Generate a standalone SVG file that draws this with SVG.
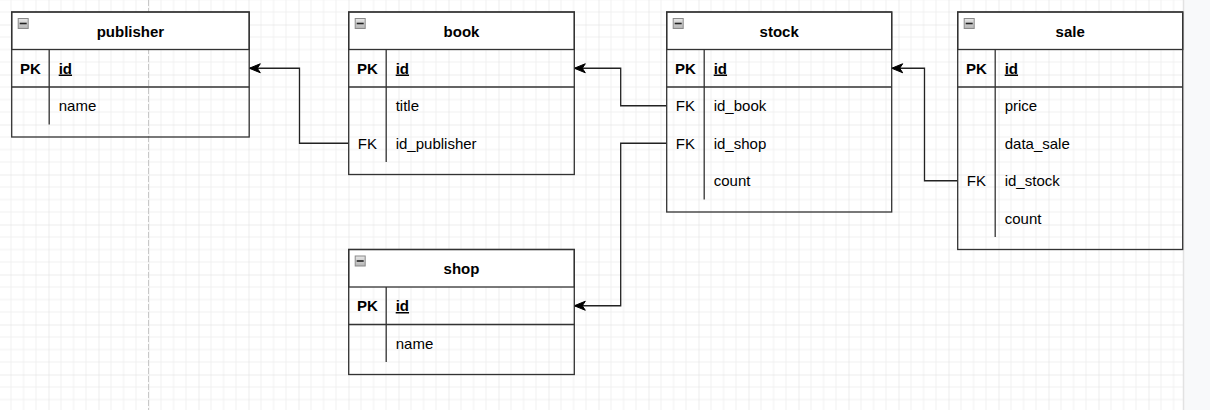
<svg xmlns="http://www.w3.org/2000/svg" width="1210" height="410" viewBox="0 0 1210 410">
  <style>
    .frame { fill: none; stroke: #333; stroke-width: 1.3; }
    .hdr { fill: #fff; stroke: #333; stroke-width: 1.3; }
    .ln { stroke: #333; stroke-width: 1.3; fill: none; }
    .pkln { stroke: #333; stroke-width: 1.6; fill: none; }
    .title { font-family: "Liberation Sans", Arial, sans-serif; font-size: 15px; font-weight: bold; fill: #000; text-anchor: middle; }
    .key { font-family: "Liberation Sans", Arial, sans-serif; font-size: 15px; fill: #000; text-anchor: middle; }
    .keyb { font-family: "Liberation Sans", Arial, sans-serif; font-size: 15px; font-weight: bold; fill: #000; text-anchor: middle; }
    .fld { font-family: "Liberation Sans", Arial, sans-serif; font-size: 15px; fill: #000; }
    .fldpk { font-family: "Liberation Sans", Arial, sans-serif; font-size: 15px; font-weight: bold; fill: #000; text-decoration: underline; }
    .conn { fill: none; stroke: #222; stroke-width: 1.3; }
    .icon { fill: url(#iconGrad); stroke: #8a8a8a; stroke-width: 1; }
    .iconbar { stroke: #222; stroke-width: 1.6; }
  </style>
  <defs>
    <pattern id="grid" x="48.5" y="24.5" width="50" height="50" patternUnits="userSpaceOnUse">
      <path d="M12.5 0 V50 M25 0 V50 M37.5 0 V50 M0 12.5 H50 M0 25 H50 M0 37.5 H50" stroke="#f0f0f0" stroke-width="1" fill="none"/>
      <path d="M0 0 V50 M0 0 H50" stroke="#dcdcdc" stroke-width="1" fill="none"/>
    </pattern>
    <linearGradient id="iconGrad" x1="0" y1="0" x2="0" y2="1">
      <stop offset="0" stop-color="#e8e8e8"/>
      <stop offset="1" stop-color="#b4b4b4"/>
    </linearGradient>
    <marker id="arrow" viewBox="-12 -6 13 12" refX="0" refY="0" markerWidth="13" markerHeight="12" markerUnits="userSpaceOnUse" orient="auto" overflow="visible">
      <path d="M0 0 L-11 -4.5 L-8 0 L-11 4.5 Z" fill="#000" stroke="#000" stroke-width="1"/>
    </marker>
  </defs>

  <!-- background -->
  <rect x="0" y="0" width="1210" height="410" fill="#fff"/>
  <rect x="0" y="0" width="1183" height="410" fill="url(#grid)"/>
  <line x1="148.5" y1="0" x2="148.5" y2="410" stroke="#c8c8c8" stroke-width="1" stroke-dasharray="6 2"/>
  <rect x="1183" y="0" width="27" height="410" fill="#f8f9fa"/>
  <line x1="1183.5" y1="0" x2="1183.5" y2="410" stroke="#e2e2e2" stroke-width="1.5"/>

  <!-- connectors -->
  <g id="connectors">
    <path class="conn" d="M348.7 143.25 H299.5 V68.25 H249.3" marker-end="url(#arrow)"/>
    <path class="conn" d="M666.7 105.75 H620.7 V68.25 H574.3" marker-end="url(#arrow)"/>
    <path class="conn" d="M666.7 143.25 H620.7 V305.75 H574.3" marker-end="url(#arrow)"/>
    <path class="conn" d="M957.7 180.75 H924.5 V68.25 H891.7" marker-end="url(#arrow)"/>
  </g>

  <!-- publisher -->
  <g id="publisher" transform="translate(11.7,12)">
    <rect class="hdr" x="0" y="0" width="237.5" height="37.5"/>
    <rect class="frame" x="0" y="0" width="237.5" height="125"/>
    <rect class="icon" x="6.5" y="6.5" width="10" height="10"/>
    <line class="iconbar" x1="8" y1="11.5" x2="15" y2="11.5"/>
    <text class="title" x="118.75" y="24.5">publisher</text>
    <line class="pkln" x1="0" y1="75" x2="237.5" y2="75"/>
    <line class="ln" x1="37.5" y1="37.5" x2="37.5" y2="112.5"/>
    <text class="keyb" x="18.75" y="61.5">PK</text>
    <text class="fldpk" x="47" y="61.5">id</text>
    <text class="fld" x="47" y="99">name</text>
  </g>

  <!-- book -->
  <g id="book" transform="translate(348.7,12)">
    <rect class="hdr" x="0" y="0" width="225.6" height="37.5"/>
    <rect class="frame" x="0" y="0" width="225.6" height="162.5"/>
    <rect class="icon" x="6.5" y="6.5" width="10" height="10"/>
    <line class="iconbar" x1="8" y1="11.5" x2="15" y2="11.5"/>
    <text class="title" x="112.8" y="24.5">book</text>
    <line class="pkln" x1="0" y1="75" x2="225.6" y2="75"/>
    <line class="ln" x1="37.5" y1="37.5" x2="37.5" y2="150"/>
    <text class="keyb" x="18.75" y="61.5">PK</text>
    <text class="fldpk" x="47" y="61.5">id</text>
    <text class="fld" x="47" y="99">title</text>
    <text class="key" x="18.75" y="136.5">FK</text>
    <text class="fld" x="47" y="136.5">id_publisher</text>
  </g>

  <!-- stock -->
  <g id="stock" transform="translate(666.7,12)">
    <rect class="hdr" x="0" y="0" width="225" height="37.5"/>
    <rect class="frame" x="0" y="0" width="225" height="200"/>
    <rect class="icon" x="6.5" y="6.5" width="10" height="10"/>
    <line class="iconbar" x1="8" y1="11.5" x2="15" y2="11.5"/>
    <text class="title" x="112.5" y="24.5">stock</text>
    <line class="pkln" x1="0" y1="75" x2="225" y2="75"/>
    <line class="ln" x1="37.5" y1="37.5" x2="37.5" y2="187.5"/>
    <text class="keyb" x="18.75" y="61.5">PK</text>
    <text class="fldpk" x="47" y="61.5">id</text>
    <text class="key" x="18.75" y="99">FK</text>
    <text class="fld" x="47" y="99">id_book</text>
    <text class="key" x="18.75" y="136.5">FK</text>
    <text class="fld" x="47" y="136.5">id_shop</text>
    <text class="fld" x="47" y="174">count</text>
  </g>

  <!-- sale -->
  <g id="sale" transform="translate(957.7,12)">
    <rect class="hdr" x="0" y="0" width="225" height="37.5"/>
    <rect class="frame" x="0" y="0" width="225" height="237.5"/>
    <rect class="icon" x="6.5" y="6.5" width="10" height="10"/>
    <line class="iconbar" x1="8" y1="11.5" x2="15" y2="11.5"/>
    <text class="title" x="112.5" y="24.5">sale</text>
    <line class="pkln" x1="0" y1="75" x2="225" y2="75"/>
    <line class="ln" x1="37.5" y1="37.5" x2="37.5" y2="225"/>
    <text class="keyb" x="18.75" y="61.5">PK</text>
    <text class="fldpk" x="47" y="61.5">id</text>
    <text class="fld" x="47" y="99">price</text>
    <text class="fld" x="47" y="136.5">data_sale</text>
    <text class="key" x="18.75" y="174">FK</text>
    <text class="fld" x="47" y="174">id_stock</text>
    <text class="fld" x="47" y="211.5">count</text>
  </g>

  <!-- shop -->
  <g id="shop" transform="translate(348.7,249.5)">
    <rect class="hdr" x="0" y="0" width="225.6" height="37.5"/>
    <rect class="frame" x="0" y="0" width="225.6" height="125"/>
    <rect class="icon" x="6.5" y="6.5" width="10" height="10"/>
    <line class="iconbar" x1="8" y1="11.5" x2="15" y2="11.5"/>
    <text class="title" x="112.8" y="24.5">shop</text>
    <line class="ln" x1="0" y1="75" x2="225.6" y2="75"/>
    <line class="ln" x1="37.5" y1="37.5" x2="37.5" y2="112.5"/>
    <text class="keyb" x="18.75" y="61.5">PK</text>
    <text class="fldpk" x="47" y="61.5">id</text>
    <text class="fld" x="47" y="99">name</text>
  </g>
</svg>
